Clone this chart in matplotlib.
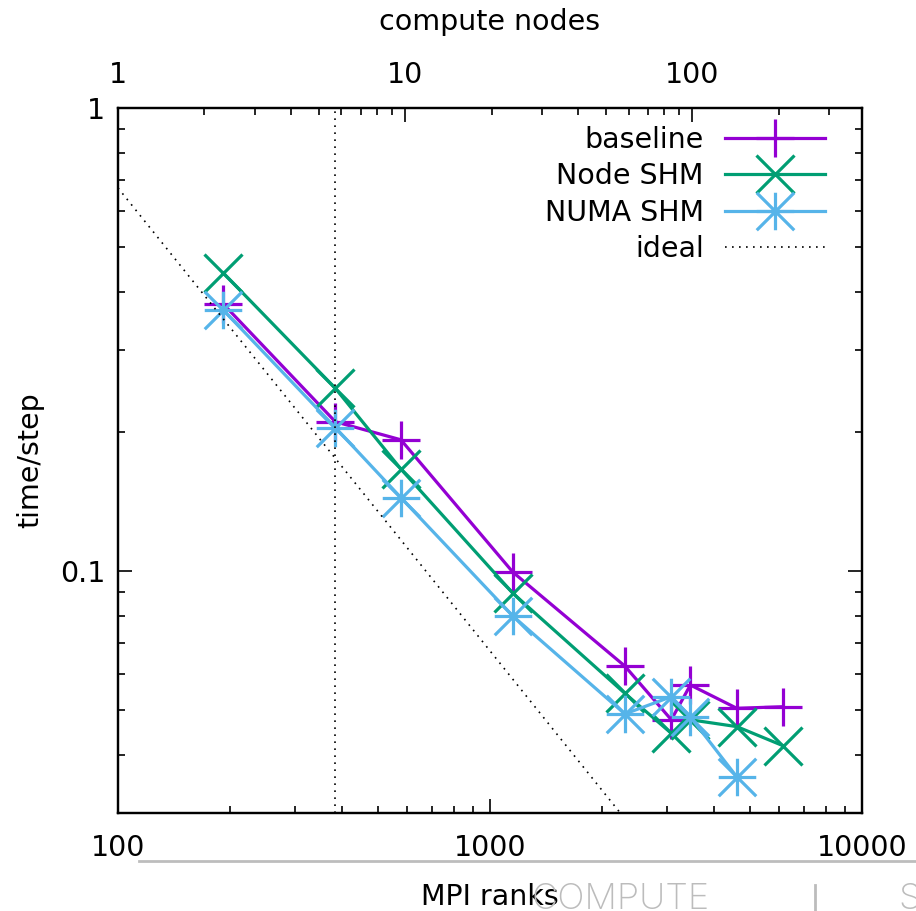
import matplotlib
matplotlib.use("Agg")
import matplotlib.pyplot as plt
from matplotlib.path import Path
from matplotlib.lines import Line2D
from matplotlib.ticker import FuncFormatter, NullFormatter, LogLocator

# ---------------- data ----------------
ranks = [192, 384, 576, 1152, 2304, 3072, 3456, 4608, 6144]
baseline = [0.377, 0.210, 0.192, 0.0994, 0.0623, 0.0477, 0.0567, 0.0505, 0.0509]
node_shm = [0.440, 0.248, 0.166, 0.0895, 0.0544, 0.0446, 0.0477, 0.0461, 0.0419]
numa_ranks = [192, 384, 576, 1152, 2304, 3072, 3456, 4608]
numa_shm = [0.366, 0.204, 0.144, 0.0799, 0.0491, 0.0535, 0.0484, 0.0359]
ideal_ranks = [100, 10000]
ideal_const = 67.2            # time*ranks for perfect scaling
ideal_time = [ideal_const / r for r in ideal_ranks]
marker_rank = 384             # vertical reference line
x_range = (100, 10000)
x2_range = (1, 390)
y_range = (0.03, 1)

FS = 20.5
plt.rcParams['font.family'] = ['DejaVu Sans']
plt.rcParams['font.size'] = FS

c_base = '#9400D3'
c_node = '#009E73'
c_numa = '#56B4E9'

star = Path([(-1, 0), (1, 0), (0, -1), (0, 1), (-1, -1), (1, 1), (-1, 1), (1, -1)],
            [Path.MOVETO, Path.LINETO] * 4)

fig = plt.figure(figsize=(9.16, 9.11), dpi=100)
W, H = 916, 911
ax = fig.add_axes([118 / W, 1 - 813 / H, 744 / W, 705 / H])
ax.set_xscale('log')
ax.set_yscale('log')

lw = 2.3
ms = 27
ax.plot(ranks, baseline, color=c_base, lw=lw, marker='+', ms=ms, mew=lw, label='baseline')
ax.plot(ranks, node_shm, color=c_node, lw=lw, marker='x', ms=ms, mew=lw, label='Node SHM')
ax.plot(numa_ranks, numa_shm, color=c_numa, lw=lw, marker=star, ms=ms, mew=lw, label='NUMA SHM')
ax.plot(ideal_ranks, ideal_time, color='black', lw=1.2, ls=(0, (1, 3.2)), label='ideal')
ax.axvline(marker_rank, color='black', lw=1.2, ls=(0, (1, 3.2)))

ax.set_xlim(*x_range)
ax.set_ylim(*y_range)

fmt = FuncFormatter(lambda v, p: '%g' % v)
ax.xaxis.set_major_formatter(fmt)
ax.yaxis.set_major_formatter(fmt)
ax.xaxis.set_minor_formatter(NullFormatter())
ax.yaxis.set_minor_formatter(NullFormatter())
ax.yaxis.set_minor_locator(LogLocator(base=10, subs=range(2, 10), numticks=20))
ax.xaxis.set_minor_locator(LogLocator(base=10, subs=range(2, 10), numticks=20))

for sp in ax.spines.values():
    sp.set_linewidth(1.6)
ax.tick_params(which='both', direction='in', top=False, right=True, width=1.2)
ax.tick_params(which='major', length=10)
ax.tick_params(which='minor', length=5)
ax.tick_params(axis='x', which='major', pad=15)
ax.tick_params(axis='y', which='major', pad=9)

ax2 = ax.twiny()
ax2.set_xscale('log')
ax2.set_xlim(*x2_range)
ax2.xaxis.set_major_formatter(fmt)
ax2.xaxis.set_minor_formatter(NullFormatter())
ax2.xaxis.set_minor_locator(LogLocator(base=10, subs=range(2, 10), numticks=20))
ax2.tick_params(which='both', direction='in', width=1.2)
ax2.tick_params(which='major', length=10, pad=14)
ax2.tick_params(which='minor', length=5)
for sp in ax2.spines.values():
    sp.set_linewidth(1.6)

fig.text(490 / W, 1 - 22 / H, 'compute nodes', ha='center', va='center', fontsize=FS)
fig.text(490 / W, 1 - 897 / H, 'MPI ranks', ha='center', va='center', fontsize=FS)
fig.text(30 / W, 1 - 460 / H, 'time/step', ha='center', va='center', rotation=90, fontsize=FS)

leg = ax.legend(loc='upper right', bbox_to_anchor=(0.95, 0.975), frameon=False,
                markerfirst=False, handlelength=3.5, handletextpad=0.75,
                labelspacing=0.3, borderpad=0, borderaxespad=0, numpoints=1)

# faint slide remnants below the plot
fig.add_artist(Line2D([139 / W, 1.0], [1 - 861 / H] * 2, color='#bdbdbd', lw=2))
fig.text(532 / W, 1 - 883 / H, 'COMPUTE', ha='left', va='top', fontsize=26,
         color='#bcbcbc', family=['Inter', 'DejaVu Sans'], fontweight='light')
fig.add_artist(Line2D([815 / W] * 2, [0, 1 - 885 / H], color='#bcbcbc', lw=2))
fig.text(898 / W, 1 - 883 / H, 'S', ha='left', va='top', fontsize=26,
         color='#bcbcbc', family=['Inter', 'DejaVu Sans'], fontweight='light')

fig.savefig('out.png', dpi=100)
